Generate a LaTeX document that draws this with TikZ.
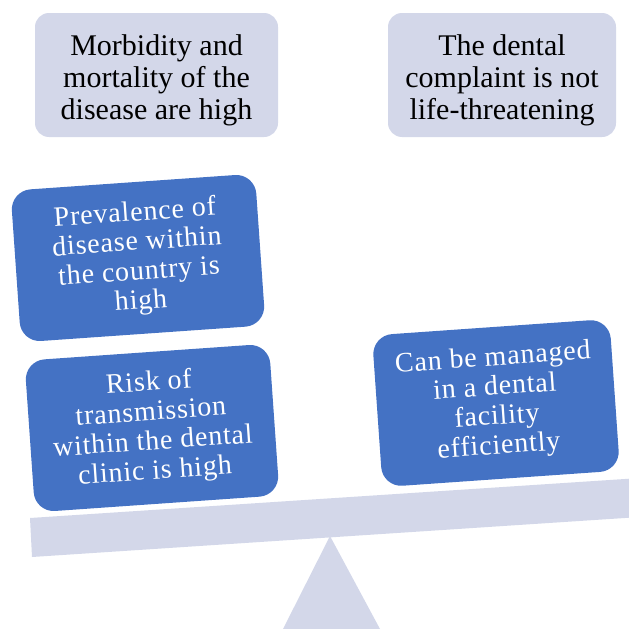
\documentclass[tikz,border=0pt]{standalone}
\usepackage{fontspec}
\setmainfont{Liberation Serif}
\newfontfamily\tnr{Liberation Serif}
\newfontfamily\tnrwide[LetterSpace=3]{Liberation Serif}
\definecolor{lav}{HTML}{D3D7E9}
\definecolor{boxblue}{HTML}{4472C4}

\begin{document}
\begin{tikzpicture}[x=1pt, y=-1pt,
  topbox/.style={fill=lav, rounded corners=14pt, minimum width=243pt, minimum height=124pt, inner sep=0pt},
  toptext/.style={inner sep=0pt, align=center, font=\tnr\fontsize{30}{32}\selectfont},
  bluebox/.style={fill=boxblue, text=white, rounded corners=20pt, minimum width=245pt, minimum height=152pt,
    inner sep=0pt, align=center, font=\tnrwide\fontsize{28}{29.5}\selectfont, rotate=4}]
\useasboundingbox (0,0) rectangle (629,629);

% 支点和横梁
\fill[lav] (283,629) -- (330,536) -- (380,629) -- cycle;
\fill[lav] (30,518) -- (640,478) -- (640,517) -- (32,557) -- cycle;

% 上方两个框
\node[topbox] (morb) at (156.5,75) {};
\node[toptext] (morbtxt) at (156.5,80) {Morbidity and\\mortality of the\\disease are high};
\node[topbox, minimum width=228pt] (dent) at (502,75) {};
\node[toptext] (denttxt) at (502,80) {The dental\\complaint is not\\life-threatening};

% 蓝色方块
\node[bluebox] (prev) at (138,258) {Prevalence of\\disease within\\the country is\\high};
\node[bluebox] (risk) at (152,428) {Risk of\\transmission\\within the dental\\clinic is high};
\node[bluebox, minimum width=238pt] (cbm) at (496,403) {Can be managed\\in a dental\\facility\\efficiently};
\end{tikzpicture}
\end{document}
